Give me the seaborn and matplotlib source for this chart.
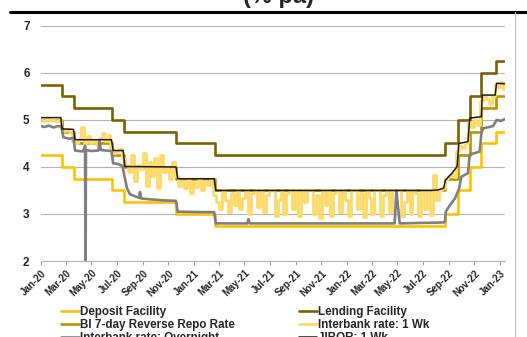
import pandas as pd
import matplotlib.pyplot as plt
from matplotlib.lines import Line2D
import seaborn as sns

# policy rates (change dates, value in force from that date)
rate_dates = ['2020-01-01', '2020-02-21', '2020-03-20', '2020-06-19', '2020-07-17',
              '2020-11-20', '2021-02-19', '2022-08-23', '2022-09-23', '2022-10-21',
              '2022-11-18', '2022-12-23', '2023-01-13']
bi_rate = [5.00, 4.75, 4.50, 4.25, 4.00, 3.75, 3.50, 3.75, 4.25, 4.75, 5.25, 5.50, 5.50]
deposit = [4.25, 4.00, 3.75, 3.50, 3.25, 3.00, 2.75, 3.00, 3.50, 4.00, 4.50, 4.75, 4.75]
lending = [5.75, 5.50, 5.25, 5.00, 4.75, 4.50, 4.25, 4.50, 5.00, 5.50, 6.00, 6.25, 6.25]

# interbank overnight
on_dates = ['2020-01-01', '2020-01-10', '2020-01-20', '2020-02-01', '2020-02-10', '2020-02-20',
            '2020-02-24', '2020-03-10', '2020-03-19', '2020-03-23', '2020-04-10', '2020-04-15',
            '2020-04-16', '2020-04-17', '2020-04-18', '2020-05-01', '2020-05-18', '2020-05-20',
            '2020-05-24', '2020-06-18', '2020-06-22', '2020-07-05', '2020-07-14', '2020-07-18',
            '2020-07-25', '2020-08-01', '2020-08-15', '2020-08-23', '2020-08-25', '2020-08-28',
            '2020-09-20', '2020-10-20', '2020-11-19', '2020-11-23', '2021-01-15', '2021-02-18',
            '2021-02-22', '2021-05-08', '2021-05-11', '2021-05-14', '2021-12-01', '2022-04-25',
            '2022-04-29', '2022-05-07', '2022-08-19', '2022-08-23', '2022-08-25', '2022-09-04',
            '2022-09-16', '2022-09-26', '2022-10-01', '2022-10-17', '2022-10-21', '2022-11-14',
            '2022-11-18', '2022-11-22', '2022-12-16', '2022-12-24', '2023-01-04', '2023-01-13']
overnight = [4.87, 4.85, 4.88, 4.84, 4.87, 4.86,
             4.63, 4.60, 4.62, 4.35, 4.33, 4.40,
             4.45, 1.00, 4.36, 4.34, 4.35, 4.55,
             4.36, 4.34, 4.08, 4.06, 4.02, 3.85,
             3.55, 3.42, 3.37, 3.34, 3.47, 3.33,
             3.31, 3.29, 3.28, 3.05, 3.04, 3.04,
             2.80, 2.80, 2.89, 2.80, 2.80, 2.80,
             3.50, 2.80, 2.82, 2.84, 3.05, 3.19,
             3.33, 3.55, 3.79, 3.87, 4.26, 4.33,
             4.72, 4.82, 4.87, 5.00, 4.98, 5.02]

# JIBOR 1 week
jibor_dates = ['2020-01-01', '2020-02-18', '2020-02-21', '2020-03-19', '2020-03-23', '2020-06-18',
               '2020-06-22', '2020-07-16', '2020-07-20', '2020-11-19', '2020-11-23', '2021-02-18',
               '2021-02-22', '2022-07-20', '2022-08-05', '2022-08-20', '2022-08-24', '2022-09-09',
               '2022-09-21', '2022-09-25', '2022-10-17', '2022-10-21', '2022-11-18', '2022-11-20',
               '2022-12-21', '2022-12-24', '2023-01-13']
jibor = [5.05, 5.05, 4.81, 4.80, 4.58, 4.58,
         4.35, 4.35, 4.01, 4.00, 3.75, 3.75,
         3.50, 3.50, 3.51, 3.55, 3.72, 3.87,
         4.01, 4.50, 4.54, 5.04, 5.07, 5.53,
         5.53, 5.78, 5.77]

# interbank 1 week, weekly readings (Fridays from 3 Jan 2020)
ib1w = [
    # 2020
    5.00, 4.98, 5.02, 4.99, 5.01,  4.98, 4.99, 4.78, 4.76,  4.80, 4.75, 4.55, 4.50,
    4.60, 4.85, 4.52, 4.65,  4.50, 4.58, 4.48, 4.62, 4.72,  4.55, 4.68, 4.40, 4.30,
    4.35, 4.38, 4.20, 4.05, 3.90,  4.25, 3.70, 4.05, 3.95,  4.30, 3.60, 4.10, 3.80,
    4.20, 3.55, 4.25, 3.90, 4.00,  3.75, 4.10, 3.80, 3.60,  3.70, 3.55, 3.72, 3.45,
    # 2021
    3.68, 3.58, 3.75, 3.52, 3.70,  3.62, 3.72, 3.40, 3.25,  3.10, 3.50, 3.30, 3.05,
    3.45, 3.20, 3.50, 3.10, 3.35,  3.50, 3.00, 3.45, 3.50,  3.15, 3.50, 3.05, 3.40,
    3.50, 3.50, 2.95, 3.30, 3.50,  3.00, 3.45, 3.50, 3.10,  3.50, 2.95, 3.50, 3.25,
    3.50, 3.50, 3.00, 3.40, 2.92,  3.50, 3.20, 3.50, 2.95,  3.45, 3.50, 3.05, 3.50, 3.30,
    # 2022
    2.95, 3.50, 3.50, 3.10,  3.45, 2.93, 3.50, 3.35,  3.00, 3.50, 3.50, 2.95,
    3.40, 3.50, 3.05, 3.50, 3.50,  3.50, 2.95, 3.25, 3.50,  3.00, 3.50, 3.45, 2.95,
    3.50, 3.10, 3.50, 2.98, 3.83,  3.30, 3.50, 3.55, 3.75,  3.80, 3.85, 3.78, 4.35, 4.45,
    4.40, 4.50, 4.95, 4.85,  5.00, 4.90, 5.40, 5.50,  5.45, 5.35, 5.50, 5.75, 5.70,
    # 2023
    5.80, 5.65]
ib1w_dates = pd.date_range('2020-01-03', periods=len(ib1w), freq='W-FRI')

tick_labels = ['Jan-20', 'Mar-20', 'May-20', 'Jul-20', 'Sep-20', 'Nov-20', 'Jan-21', 'Mar-21',
               'May-21', 'Jul-21', 'Sep-21', 'Nov-21', 'Jan-22', 'Mar-22', 'May-22', 'Jul-22',
               'Sep-22', 'Nov-22', 'Jan-23']

sns.set_theme(style='white')
plt.rcParams['font.family'] = ['Liberation Sans', 'DejaVu Sans']
plt.rcParams['font.weight'] = 'bold'

fig = plt.figure(figsize=(5.27, 3.37), dpi=100)
ax = fig.add_axes([0.0772, 0.2255, 0.8808, 0.6975])

rd = pd.to_datetime(rate_dates)
sns.lineplot(x=rd, y=deposit, ax=ax, color='#FFC000', lw=1.9, drawstyle='steps-post',
             label='Deposit Facility')
sns.lineplot(x=rd, y=lending, ax=ax, color='#7F6000', lw=1.9, drawstyle='steps-post',
             label='Lending Facility')
sns.lineplot(x=rd, y=bi_rate, ax=ax, color='#BF9000', lw=1.9, drawstyle='steps-post',
             label='BI 7-day Reverse Repo Rate')
sns.lineplot(x=ib1w_dates, y=ib1w, ax=ax, color='#FFD966', lw=2.0, drawstyle='steps-mid',
             label='Interbank rate: 1 Wk')
sns.lineplot(x=pd.to_datetime(on_dates), y=overnight, ax=ax, color='#7F7F7F', lw=1.9,
             label='Interbank rate: Overnight')
sns.lineplot(x=pd.to_datetime(jibor_dates), y=jibor, ax=ax, color='#1A1A1A', lw=1.1,
             label='JIBOR: 1 Wk')

ax.set_xlim(pd.Timestamp('2020-01-01'), pd.Timestamp('2023-01-13'))
ax.set_ylim(2, 7)
ax.set_yticks(range(2, 8))
ax.set_xticks(pd.date_range('2020-01-01', '2023-01-01', freq='2MS'))
ax.set_xticklabels(tick_labels, rotation=45, ha='right', rotation_mode='anchor',
                   fontsize=7, fontweight='bold')
ax.tick_params(axis='y', length=0, pad=8, labelsize=8.5)
ax.tick_params(axis='x', length=3, width=0.8, color='#A6A6A6', direction='out',
               bottom=True, pad=2)
for lab in ax.get_yticklabels():
    lab.set_fontweight('bold')
ax.grid(axis='y', color='#B3B3B3', lw=0.8)
ax.set_axisbelow(True)
for s in ['top', 'right', 'left']:
    ax.spines[s].set_visible(False)
ax.spines['bottom'].set_color('#B3B3B3')
ax.spines['bottom'].set_linewidth(0.8)
ax.set_xlabel('')
ax.set_ylabel('')

h, l = ax.get_legend_handles_labels()
order = [0, 2, 4, 1, 3, 5]
ax.legend([h[i] for i in order], [l[i] for i in order], ncol=2, loc='upper left',
          bbox_to_anchor=(0.116, 0.092), bbox_transform=fig.transFigure, frameon=False,
          prop={'weight': 'bold', 'size': 8.4}, handlelength=1.5,
          handletextpad=0.1, labelspacing=0.08, columnspacing=5.55, borderpad=0,
          borderaxespad=0)

# page furniture: cut-off title, rule and right border
fig.text(0.528, 1 - 3 / 337, '(% pa)', ha='center', va='baseline', fontsize=17,
         fontweight='bold')
fig.add_artist(Line2D([10 / 527, 1], [1 - 12 / 337] * 2, color='black', lw=2.2))
fig.add_artist(Line2D([515 / 527] * 2, [0, 1 - 12 / 337], color='#BFBFBF', lw=0.8))

fig.savefig('out.png', dpi=100)
